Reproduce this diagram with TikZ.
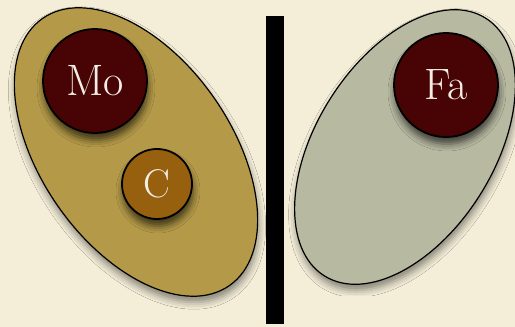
\documentclass[tikz,border=0pt]{standalone}
\usepackage{xcolor}
\definecolor{cPaper}{HTML}{F4EED8}
\definecolor{cGold}{HTML}{B49A48}
\definecolor{cSage}{HTML}{B8B9A1}
\definecolor{cWine}{HTML}{480404}
\definecolor{cRust}{HTML}{97600F}
\definecolor{cText}{HTML}{F2EEE6}
\usepackage{tikz}
\usetikzlibrary{shapes.geometric,shadows.blur}
\tikzset{
  node-group/.style={draw=black,line width=1.2pt,ellipse,inner sep=0pt,
    blur shadow={shadow xshift=1pt,shadow yshift=-6pt,
      shadow blur radius=7pt,shadow opacity=45}},
  node-atom/.style={draw=black,line width=1.8pt,circle,inner sep=0pt,
    minimum size=104pt,fill=cWine,text=cText,
    font=\fontsize{44}{48}\selectfont,
    blur shadow={shadow xshift=1pt,shadow yshift=-7pt,
      shadow blur radius=7pt,shadow opacity=65}},
  node-light/.style={minimum size=70pt,fill=cRust,
    font=\fontsize{40}{44}\selectfont},
  node-wall/.style={fill=black,inner sep=0pt,
    minimum width=18pt,minimum height=308pt},
}

\begin{document}
\begin{tikzpicture}[x=1pt,y=1pt]
  \useasboundingbox (0,0) rectangle (515,327);
  \fill[cPaper] (0,0) rectangle (515,327);
  % two groups
  \node[node-group,fill=cGold,minimum width=326pt,minimum height=190pt,
    rotate=-55] (left) at (136,175) {};
  \node[node-group,fill=cSage,minimum width=304pt,minimum height=178pt,
    rotate=58] (right) at (405,180) {};
  % atoms
  \node[node-atom] (mo) at (95,246) {Mo};
  \node[node-atom,node-light] (c) at (157,143) {C};
  \node[node-atom] (fa) at (446,242) {Fa};
  % wall
  \node[node-wall] (wall) at (275,157) {};
\end{tikzpicture}
\end{document}
